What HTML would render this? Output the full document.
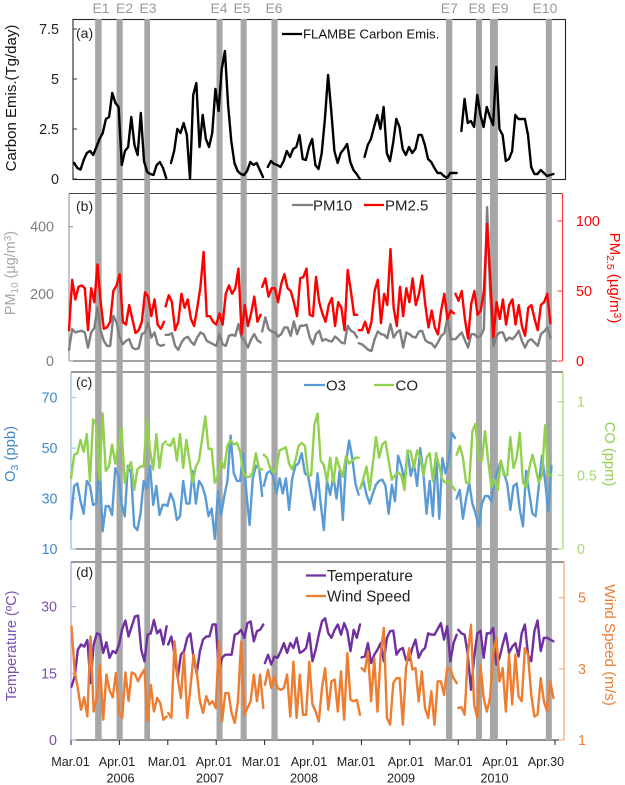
<!DOCTYPE html>
<html lang="en">
<head>
<meta charset="utf-8">
<title>Carbon emissions and air quality, 2006-2010</title>
<style>
html,body{margin:0;padding:0;background:#fff;width:625px;height:785px;overflow:hidden}
svg{display:block}
text{font-family:"Liberation Sans",sans-serif}
</style>
</head>
<body>
<svg id="chart" width="625" height="785" viewBox="0 0 625 785" xmlns="http://www.w3.org/2000/svg">
  <rect x="0" y="0" width="625" height="785" fill="#fff"/>
  <g id="frames">
    <rect x="73" y="19.5" width="492.5" height="160" fill="none" stroke="#222" stroke-width="1.1"/>
    <line x1="69" y1="193.5" x2="562" y2="193.5" stroke="#444" stroke-width="1"/>
    <line x1="73" y1="361" x2="557" y2="361" stroke="#444" stroke-width="1"/>
    <line x1="69" y1="193.5" x2="69" y2="361" stroke="#8c8c8c" stroke-width="1"/>
    <line x1="562.5" y1="193.5" x2="562.5" y2="361" stroke="#ff3030" stroke-width="1"/>
    <line x1="71" y1="372" x2="563" y2="372" stroke="#333" stroke-width="1"/>
    <line x1="75" y1="549" x2="558" y2="549" stroke="#666" stroke-width="1.2"/>
    <line x1="71" y1="372" x2="71" y2="549" stroke="#8fbce4" stroke-width="1.2"/>
    <line x1="563" y1="372" x2="563" y2="549" stroke="#a4d96c" stroke-width="1.2"/>
    <line x1="71" y1="562" x2="564" y2="562" stroke="#333" stroke-width="1"/>
    <line x1="71" y1="740" x2="564" y2="740" stroke="#222" stroke-width="1"/>
    <line x1="71" y1="562" x2="71" y2="740" stroke="#b79ad4" stroke-width="1.2"/>
    <line x1="564" y1="562" x2="564" y2="740" stroke="#f4a06a" stroke-width="1.2"/>
  </g>
  <g id="bands"></g>
  <g id="ticks"></g>
  <g id="series"></g>

  <text x="76" y="38" font-size="14" fill="#222">(a)</text>
  <text x="76" y="211" font-size="14" fill="#222">(b)</text>
  <text x="76" y="387" font-size="14" fill="#222">(c)</text>
  <text x="76" y="577" font-size="14" fill="#222">(d)</text>

  <text transform="translate(16,98) rotate(-90)" text-anchor="middle" font-size="15" fill="#111">Carbon Emis.(Tg/day)</text>
  <text transform="translate(15,273) rotate(-90)" text-anchor="middle" font-size="14.4" fill="#a6a6a6">PM<tspan dy="3" font-size="10">10</tspan><tspan dy="-3"> (µg/m</tspan><tspan dy="-4" font-size="10">3</tspan><tspan dy="4">)</tspan></text>
  <text transform="translate(610,278) rotate(90)" text-anchor="middle" font-size="15" fill="#ff0000">PM<tspan dy="3" font-size="10.5">2.5</tspan><tspan dy="-3"> (µg/m</tspan><tspan dy="-4" font-size="10.5">3</tspan><tspan dy="4">)</tspan></text>
  <text transform="translate(15,454) rotate(-90)" text-anchor="middle" font-size="14.8" fill="#3f88c9">O<tspan dy="3" font-size="10.5">3</tspan><tspan dy="-3"> (ppb)</tspan></text>
  <text transform="translate(605,454) rotate(90)" text-anchor="middle" font-size="14.7" fill="#92d050">CO (ppm)</text>
  <text transform="translate(16,646) rotate(-90)" text-anchor="middle" font-size="14.5" fill="#7c4fb0">Temperature (ºC)</text>
  <text transform="translate(605,645) rotate(90)" text-anchor="middle" font-size="15.2" fill="#ed7d31">Wind Speed (m/s)</text>

  <g id="legend">
    <line x1="282" y1="34" x2="302" y2="34" stroke="#000" stroke-width="2.2"/>
    <text x="303" y="38.5" font-size="13.2" fill="#111">FLAMBE Carbon Emis.</text>
    <line x1="292" y1="205" x2="313" y2="205" stroke="#7f7f7f" stroke-width="2.2"/>
    <text x="313" y="210.5" font-size="15" fill="#222">PM10</text>
    <line x1="364" y1="205" x2="384" y2="205" stroke="#ff0000" stroke-width="2.2"/>
    <text x="385" y="210.5" font-size="15" fill="#222">PM2.5</text>
    <line x1="304" y1="385" x2="325" y2="385" stroke="#5b9bd5" stroke-width="2.2"/>
    <text x="326" y="390.5" font-size="15" fill="#222">O3</text>
    <line x1="374" y1="385" x2="394" y2="385" stroke="#92d050" stroke-width="2.2"/>
    <text x="395.5" y="390.5" font-size="15" fill="#222">CO</text>
    <line x1="306" y1="575.5" x2="326" y2="575.5" stroke="#7030a0" stroke-width="2.2"/>
    <text x="327" y="581" font-size="15.3" fill="#222">Temperature</text>
    <line x1="306" y1="596" x2="326" y2="596" stroke="#ed7d31" stroke-width="2.2"/>
    <text x="327" y="601.5" font-size="15.3" fill="#222">Wind Speed</text>
  </g>
</svg>
<script>
// ---------- categories and tick labels ----------
const episodeLabels = ["E1","E2","E3","E4","E5","E6","E7","E8","E9","E10"];
const episodeStartDay = [15.2,28.7,46.2,91.7,106.9,126.3,236.3,255.2,264,299.2];
const episodeEndDay = [19.3,32.6,49.8,95.5,110.7,130.2,240.3,259,269,303];
const xTickDays = [0,30.5,61,91.5,122,152.5,183,213.5,244,274.5,305];
const xTickLabels = ["Mar.01","Apr.01","Mar.01","Apr.01","Mar.01","Apr.01","Mar.01","Apr.01","Mar.01","Apr.01","Apr.30"];
const yearLabels = ["2006","2007","2008","2009","2010"];
const carbonTicks = [0,2.5,5,7.5];
const pm10Ticks = [0,200,400];
const pm25Ticks = [0,50,100];
const o3Ticks = [10,30,50,70];
const coTicks = [0,0.5,1];
const tempTicks = [0,15,30];
const windTicks = [1,3,5];

// ---------- series values: one array per March-April season, sampled every 2 days ----------
const flambeSeasons = [
 [null,.8,.55,.47,.95,1.3,1.4,1.2,1.6,2.0,2.3,3.0,3.1,4.3,3.8,3.6,.7,1.4,1.6,3.1,1.7,1.2,3.3,.9,.35,.25,.2,.7,.85,.55,.05],
 [null,.8,1.4,2.5,2.3,2.8,2.2,0,4.2,4.8,1.6,3.2,2,1.6,2.3,4.5,3.4,5.5,6.4,3.7,1.9,.8,.4,.25,.2,.4,.85,.7,.8,.45,.1],
 [null,.6,.9,.75,.7,.6,.9,1.4,1.1,1.5,1.6,2.2,1.0,.95,1.6,2.0,.7,.5,1.3,3,5.2,3.4,1.4,.8,1.3,1.5,1.75,.85,.45,.25,0],
 [null,1.1,1.7,2.0,2.6,3.2,2.5,3.6,1.3,.9,1.8,3.0,2.6,1.5,1.2,1.6,1.3,1.5,2.2,2.2,1.7,1.0,.85,.55,.3,.3,.15,.05,.3,.3,.3],
 [null,2.4,4.0,2.8,2.9,2.6,4.2,3.2,2.6,3.6,3.1,2.7,5.6,2.5,2.2,.9,1.0,1.4,3.2,3.0,3.0,3.0,2.2,.6,.25,.25,.45,.3,.15,.2,.25]
];
const pm10Seasons = [
 [33,95,85,88,90,85,40,85,98,160,90,60,45,45,135,115,70,50,60,65,40,35,38,80,85,115,70,85,50,45,48],
 [78,78,83,45,33,55,68,72,58,48,70,85,80,60,55,50,45,80,50,45,75,78,75,110,70,60,40,65,80,62,55],
 [88,130,95,88,85,73,80,100,100,75,118,80,105,105,108,70,50,80,90,60,65,60,58,73,65,55,52,105,90,85,70],
 [53,50,42,33,30,65,88,80,78,68,110,70,85,92,40,85,80,72,70,88,90,62,55,52,40,55,75,82,130,65,65],
 [65,75,85,62,40,80,80,70,75,95,458,200,45,75,85,85,60,70,65,75,90,60,40,60,65,55,45,80,88,100,70]
];
const pm25Seasons = [
 [22,58,44,53,54,52,22,52,42,69,42,23,24,28,50,54,62,28,26,40,30,20,22,28,49,46,32,44,26,23,28],
 [39,47,42,22,28,48,38,44,30,25,38,53,78,32,32,28,26,34,26,48,54,48,52,66,19,40,25,34,46,28,33],
 [53,59,46,52,52,42,55,62,52,50,42,32,59,60,66,33,32,60,42,34,28,40,45,25,42,38,22,65,50,33,33],
 [22,22,28,20,28,50,58,27,48,40,80,38,25,53,32,52,42,59,40,48,61,40,24,36,24,19,36,48,30,36,34],
 [48,43,50,30,16,41,50,33,36,50,98,60,17,42,30,44,26,40,44,26,40,25,18,38,40,30,22,40,42,48,27]
];
const o3Seasons = [
 [22,35,36,29,24,37,35,27.5,28,45,17,27,27,23.5,42,39,28,23,43,40,19,17.5,24,37,34,43,27.5,35,23.5,27.5,27.5],
 [27,32,29,21.5,23,37,28,28,41,28,37,35,31,23,26,14,33,23.5,31,37,55,40,37,37,48,32,19.5,38,43,42,31],
 [35,40,41,38.7,32,38,32,38,25.5,38,43,44,48,40,39,32,25.5,40,28,17.5,37,31.5,39,30,41,21.5,44,53,46,36,31.5],
 [34,37,31.5,28,32,35.5,37,37.5,35,24,35.5,29,47,43,37,48.6,39,44,35,50,40,24,37,23,48,22,46,40,45,56,54],
 [30,33.4,22,30,36,28,24,19,28,31,31,29,37,41,45,40,36,25.5,35,36,25.5,19,41,32,24,23,35,47,37,25,43]
];
const coSeasons = [
 [.48,.64,.65,.74,.66,.78,.46,.88,.84,.47,.92,.53,.56,.71,.58,.71,.82,.45,.54,.59,.40,.54,.56,.56,.88,.67,.54,.78,.55,.71,.73],
 [.71,.70,.75,.60,.78,.55,.74,.60,.45,.56,.60,.75,.90,.68,.68,.45,.50,.60,.55,.70,.74,.71,.72,.66,.52,.49,.49,.52,.65,.54,.54],
 [.64,.62,.55,.52,.55,.67,.68,.69,.58,.54,.6,.70,.72,.70,.5,.50,.84,.92,.60,.57,.46,.62,.45,.62,.55,.49,.63,.58,.6,.62,.62],
 [.41,.48,.56,.40,.58,.76,.62,.71,.73,.6,.47,.5,.52,.5,.40,.67,.66,.55,.67,.62,.5,.62,.65,.46,.65,.56,.47,.45,.46,.43,.40],
 [.64,.70,.62,.45,.45,.8,.85,.6,.6,.8,.6,.42,.47,.4,.6,.5,.5,.76,.55,.62,.79,.45,.42,.55,.64,.55,.45,.5,.84,.5,.5]
];
const tempSeasons = [
 [12,14.3,20.3,21.5,21,22.5,12.8,21.5,24,23.7,19.6,22,18.5,20,19.6,21.5,25,26.9,23.3,25.6,27.8,28,20.3,17.7,23.7,24,27,24,24.8,21.5,25.6],
 [21.5,23.3,19.2,14,19.2,20,23,24,18.5,15,20,22.6,23.3,23.3,26,26,15.5,18.5,19.2,19.2,19.2,23.7,24,24.8,23,26.3,26.7,22.2,24.5,24.8,26],
 [17.3,19.2,17,18.8,18.5,20,21.8,19.6,21.8,20.7,23,19.6,20,20.7,24,17.7,20.3,23.7,26.7,27.4,24,23,24.8,26,23.7,26.3,24.5,20,24.8,23,26],
 [18.6,18.8,21.8,17.3,19.2,20.3,21.8,17.7,23,24.5,24.6,19.2,20.3,20.7,18,18,20.7,22.6,18.5,20,20.7,24,23.7,23.7,25,26.3,22.6,25.6,17.7,21.8,23.7],
 [24.8,24,23.7,19.2,11.3,18.5,24,24.6,18.5,24,24,25.2,17,18.5,21.5,24,19.6,21,21.8,18.8,24,26,19.2,17.7,24.5,26.9,20,23,23,22.6,22.2]
];
const windSeasons = [
 [4.19,2.93,2.46,1.85,2.2,1.66,3.91,1.8,2.2,3.1,1.57,2.84,2.4,2.2,2.88,1.76,1.62,2.9,2.1,2.9,2.85,2.65,2.84,2.98,1.52,2.55,1.8,2.18,2.04,1.57,1.66],
 [1.76,1.62,3.77,2.74,2.18,3.44,1.62,2.46,3.4,2.93,2.09,1.76,2.23,2,2.09,1.9,3.77,1.52,2.32,2.32,1.76,1.48,2.09,3.77,1.71,1.9,2.09,2.84,2.09,2.84,1.9],
 [2.55,2.98,2.46,2.79,2.46,2.41,2.46,2.84,1.66,3.2,1.62,2.84,1.71,1.71,3.2,2,1.8,1.52,2.46,3.02,1.85,2.65,2.7,1.8,2.93,1.57,3.44,2.13,2.09,2.13,1.71],
 [3.02,2.93,3.49,2.09,3.3,1.8,3.4,4.15,1.62,1.43,2.6,2.74,2.74,1.43,3.02,3.58,2.98,3.02,2.09,2.93,1.9,1.62,2.37,1.43,2.65,2.65,2.27,3.02,2.98,2.74,2.6],
 [1.9,1.92,1.71,3.4,4.24,2,1.62,3.1,2.18,1.8,2.18,3.4,3.87,2.65,3.02,1.8,3.4,2,3.4,2.23,2.09,3.58,3.4,2.27,1.66,1.71,2.74,2.09,1.8,2.65,2.18]
];

// ---------- axis functions ----------
const SVG_NS = "http://www.w3.org/2000/svg";
const DAYS_PER_SEASON = 61;
const DAYS_PER_SAMPLE = 2;
function linear(d0, d1, r0, r1) {
  return function (v) { return r0 + (v - d0) * (r1 - r0) / (d1 - d0); };
}
const xAxis = linear(0, 305, 71, 555);
const xCarbon = linear(0, 305, 71, 555);
const xPm = linear(0, 305, 69, 552);
const xGas = linear(0, 305, 71, 553);
const xMet = linear(0, 305, 71.5, 555);
const yCarbon = linear(0, 7.5, 179, 29);
const yPm10 = linear(0, 400, 361, 226.7);
const yPm25 = linear(0, 100, 361, 221);
const yO3 = linear(10, 70, 549, 397.7);
const yCo = linear(0, 1, 549, 401.7);
const yTemp = linear(0, 30, 740, 606.7);
const yWind = linear(1, 5, 740, 597.7);

function make(tag, parent, attrs, content) {
  const el = document.createElementNS(SVG_NS, tag);
  for (const k in attrs) el.setAttribute(k, attrs[k]);
  if (content !== undefined) el.textContent = content;
  parent.appendChild(el);
  return el;
}

// ---------- episode bands ----------
const bandsGroup = document.getElementById("bands");
const episodeLabelCenters = [101,124.6,148,219,242,274,449.3,477,500,545];
episodeLabels.forEach(function (label, i) {
  const x0 = xAxis(episodeStartDay[i]);
  const x1 = xAxis(episodeEndDay[i]);
  const rect = make("rect", bandsGroup, {x: x0, y: 19, width: x1 - x0, height: 721, fill: "#a6a6a6"});
  
  
  const text = make("text", bandsGroup, {x: episodeLabelCenters[i], y: 13, "text-anchor": "middle", "font-size": 14, fill: "#999"}, label);
  
  
});

// ---------- ticks ----------
const ticksGroup = document.getElementById("ticks");
function yTicks(values, scale, side, axisX, tickLen, labelX, color, tickColor, name) {
  values.forEach(function (v) {
    const y = scale(v);
    const tick = make("line", ticksGroup, {x1: axisX, x2: axisX + (side === "left" ? tickLen : -tickLen), y1: y, y2: y, stroke: tickColor, "stroke-width": 1});
    
    
    const label = make("text", ticksGroup, {x: labelX, y: y + 5, "font-size": 14.3, fill: color, "text-anchor": side === "left" ? "end" : "start"}, String(v));
    
    
  });
}
yTicks(carbonTicks, yCarbon, "left", 73, 4, 59, "#222", "#333", "carbon-axis");
yTicks(pm10Ticks, yPm10, "left", 69, 4, 54, "#7f7f7f", "#8c8c8c", "pm10-axis");
yTicks(pm25Ticks, yPm25, "right", 562.5, 5, 576, "#ff0000", "#ff3030", "pm25-axis");
yTicks(o3Ticks, yO3, "left", 71, 5, 57.5, "#3f88c9", "#8fbce4", "o3-axis");
yTicks(coTicks, yCo, "right", 563, 5, 577, "#a4d96c", "#a4d96c", "co-axis");
yTicks(tempTicks, yTemp, "left", 71, 5, 57, "#7c4fb0", "#b79ad4", "temperature-axis");
yTicks(windTicks, yWind, "right", 564, 5, 578, "#ed7d31", "#f4a06a", "wind-axis");

const xLabelCenters = [70.5,117,167,214,261,309,356,406,453.5,500.5,546];
xTickDays.forEach(function (d, i) {
  const x = xAxis(d);
  const tick = make("line", ticksGroup, {x1: x, x2: x, y1: 740, y2: 745, stroke: "#222", "stroke-width": 1});
  
  
  const label = make("text", ticksGroup, {x: xLabelCenters[i], y: 766, "font-size": 12.6, fill: "#222", "text-anchor": "middle"}, xTickLabels[i]);
  
  
});
const yearCenters = [120.5,210,304,401,494.5];
yearLabels.forEach(function (yr, i) {
  const label = make("text", ticksGroup, {x: yearCenters[i], y: 782.5, "font-size": 12.6, fill: "#222", "text-anchor": "middle"}, yr);
  
  
});

// ---------- series ----------
const seriesGroup = document.getElementById("series");
function drawSeries(seasons, xScale, yScale, color, name) {
  seasons.forEach(function (values, k) {
    const pts = [];
    values.forEach(function (v, j) {
      if (v === null) return;
      const day = k * DAYS_PER_SEASON + j * DAYS_PER_SAMPLE;
      pts.push(xScale(day).toFixed(2) + "," + yScale(v).toFixed(2));
    });
    const line = make("polyline", seriesGroup, {points: pts.join(" "), fill: "none", stroke: color, "stroke-width": 2.4, "stroke-linejoin": "round", "stroke-linecap": "round"});
    
    
  });
}
drawSeries(flambeSeasons, xCarbon, yCarbon, "#000000", "flambe-carbon");
drawSeries(pm10Seasons, xPm, yPm10, "#7f7f7f", "pm10");
drawSeries(pm25Seasons, xPm, yPm25, "#ff0000", "pm25");
drawSeries(o3Seasons, xGas, yO3, "#5b9bd5", "o3");
drawSeries(coSeasons, xGas, yCo, "#92d050", "co");
drawSeries(tempSeasons, xMet, yTemp, "#7030a0", "temperature");
drawSeries(windSeasons, xMet, yWind, "#ed7d31", "wind-speed");
</script>
</body>
</html>
